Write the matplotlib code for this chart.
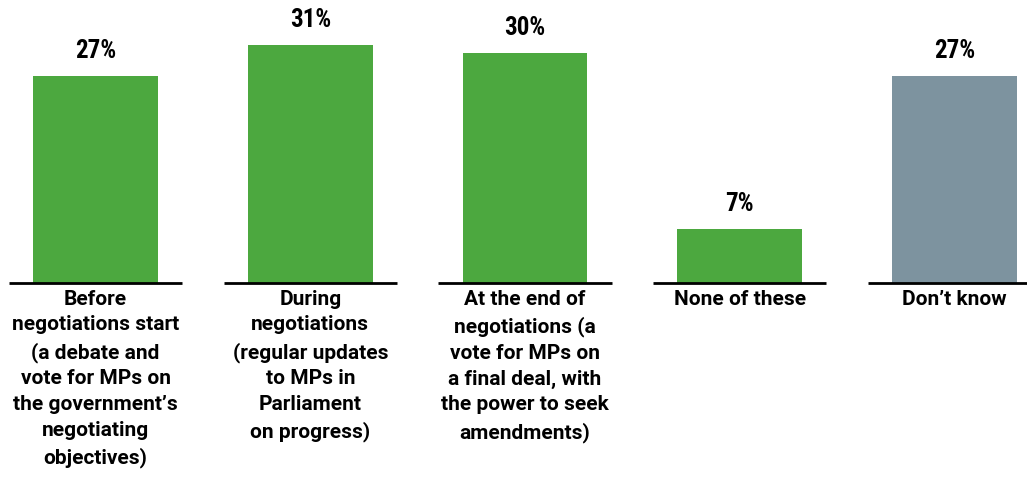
import matplotlib.pyplot as plt
from matplotlib import font_manager
import numpy as np

# when should Parliament have a say on the negotiations
categories = [
    "Before\nnegotiations start\n(a debate and\nvote for MPs on\nthe government\u2019s\nnegotiating\nobjectives)",
    "During\nnegotiations\n(regular updates\nto MPs in\nParliament\non progress)",
    "At the end of\nnegotiations (a\nvote for MPs on\na final deal, with\nthe power to seek\namendments)",
    "None of these",
    "Don\u2019t know",
]
values = [27, 31, 30, 7, 27]
colors = ["#4ca83f", "#4ca83f", "#4ca83f", "#4ca83f", "#7d939f"]

# pick a narrow face for the percentages if one is around
names = {f.name for f in font_manager.fontManager.ttflist}
narrow = [n for n in ["Roboto Condensed", "Liberation Sans Narrow",
                      "DejaVu Sans Condensed", "Open Sans Condensed"] if n in names]
pct_family = narrow[:1] + ["Roboto", "DejaVu Sans"]

x = np.arange(len(values))

fig = plt.figure(figsize=(10.27, 4.79), dpi=100)
ax = fig.add_axes([0, 0, 1, 1])

ax.bar(x, values, width=0.582, color=colors)
ax.hlines(np.zeros(len(x)), x - 0.403, x + 0.403, color="black", lw=2)

for xi, v in zip(x, values):
    ax.text(xi, v + 1.75, f"{v}%", ha="center", va="bottom", fontsize=18,
            fontweight="bold", family=pct_family)

for xi, lab in zip(x, categories):
    ax.text(xi, -0.85, lab, ha="center", va="top", fontsize=15,
            fontweight="bold", linespacing=1.46, family=["Roboto", "DejaVu Sans"])

ax.set_xlim(-0.445, 4.338)
ax.set_ylim(-25.55, 36.9)
ax.axis("off")

fig.savefig("out.png", dpi=100)
